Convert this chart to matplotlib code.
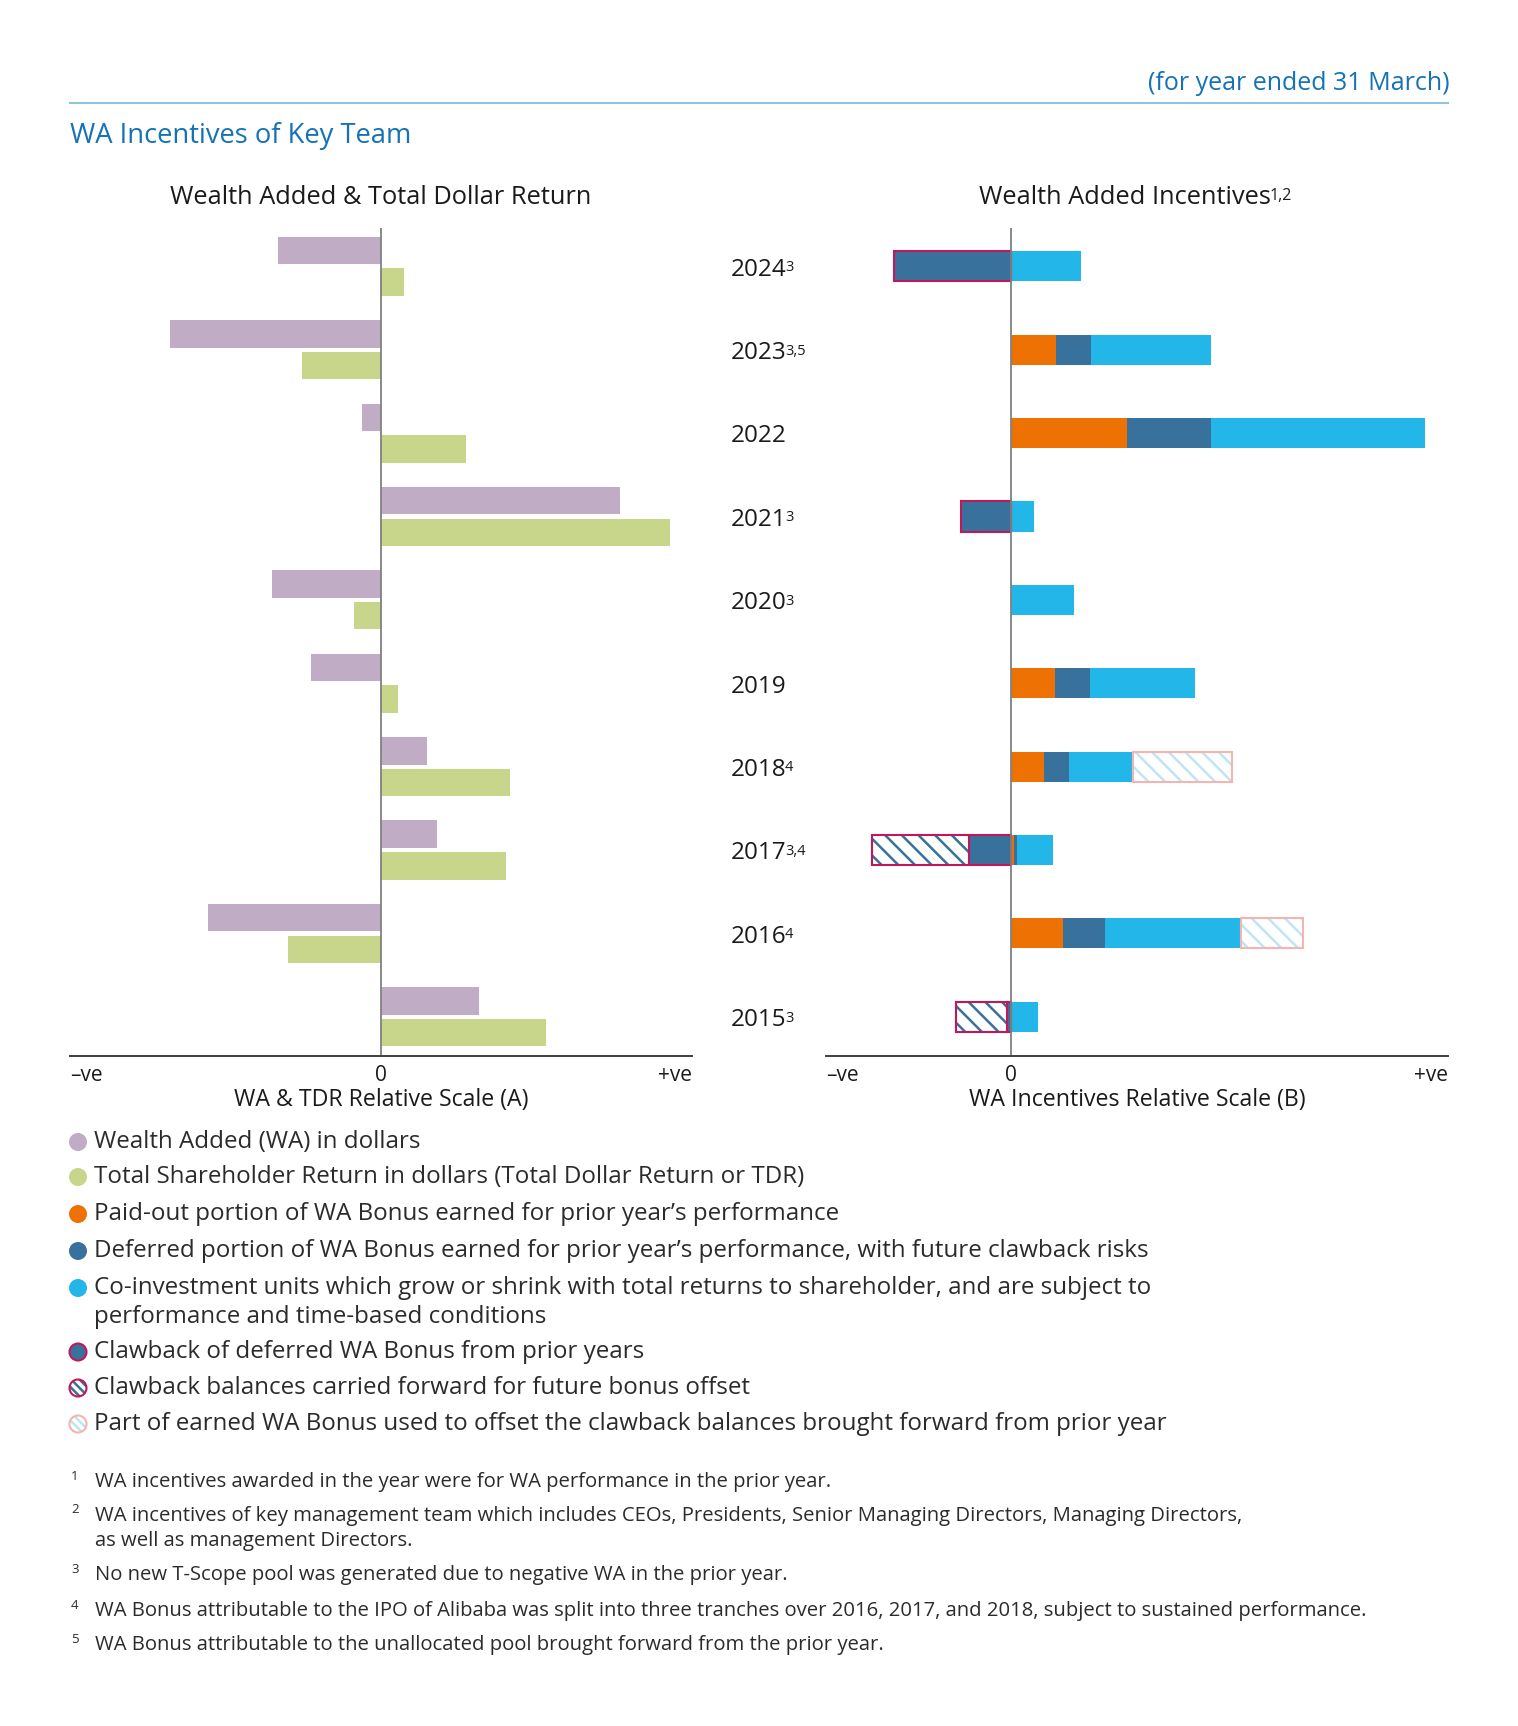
import matplotlib
matplotlib.use('Agg')
import numpy as np
import matplotlib.pyplot as plt
from matplotlib.patches import Circle
from matplotlib.transforms import blended_transform_factory

plt.rcParams['font.family'] = ['Open Sans', 'DejaVu Sans']
plt.rcParams['hatch.linewidth'] = 1.8

W, H = 1518, 1726

years = ['2024', '2023', '2022', '2021', '2020', '2019', '2018', '2017', '2016', '2015']
year_notes = ['3', '3,5', '', '3', '3', '', '4', '3,4', '4', '3']

# left chart, relative scale (A)
wealth_added = [-0.33, -0.68, -0.06, 0.77, -0.35, -0.225, 0.147, 0.181, -0.556, 0.316]
total_dollar_return = [0.075, -0.254, 0.274, 0.929, -0.088, 0.056, 0.415, 0.401, -0.298, 0.532]

# right chart, relative scale (B)
paid_out = [0, 0.103, 0.266, 0, 0, 0.100, 0.075, 0.007, 0.120, 0]
deferred = [0, 0.079, 0.191, 0, 0, 0.080, 0.058, 0.006, 0.096, 0]
co_invest = [0.161, 0.276, 0.490, 0.052, 0.145, 0.240, 0.147, 0.083, 0.311, 0.062]
offset_used = [0, 0, 0, 0, 0, 0, 0.225, 0, 0.142, 0]
clawback_deferred = [-0.268, 0, 0, -0.115, 0, 0, 0, -0.096, 0, -0.010]
clawback_carried = [0, 0, 0, 0, 0, 0, 0, -0.223, 0, -0.116]

legend_items = [
    'Wealth Added (WA) in dollars',
    'Total Shareholder Return in dollars (Total Dollar Return or TDR)',
    'Paid-out portion of WA Bonus earned for prior year\u2019s performance',
    'Deferred portion of WA Bonus earned for prior year\u2019s performance, with future clawback risks',
    'Co-investment units which grow or shrink with total returns to shareholder, and are subject to\nperformance and time-based conditions',
    'Clawback of deferred WA Bonus from prior years',
    'Clawback balances carried forward for future bonus offset',
    'Part of earned WA Bonus used to offset the clawback balances brought forward from prior year',
]

footnotes = [
    'WA incentives awarded in the year were for WA performance in the prior year.',
    'WA incentives of key management team which includes CEOs, Presidents, Senior Managing Directors, Managing Directors,\nas well as management Directors.',
    'No new T-Scope pool was generated due to negative WA in the prior year.',
    'WA Bonus attributable to the IPO of Alibaba was split into three tranches over 2016, 2017, and 2018, subject to sustained performance.',
    'WA Bonus attributable to the unallocated pool brought forward from the prior year.',
]

C_WA = '#c0adc5'
C_TDR = '#c7d68b'
C_PAID = '#ee7203'
C_DEF = '#38729c'
C_COINV = '#22b7e8'
C_CLAW = '#c2185b'
C_LHATCH = '#bfe5f5'
C_LEDGE = '#f4b4b0'
C_BLUE_TXT = '#1572b6'
C_TXT = '#1a1a1a'
C_GREY_TXT = '#2b2b2b'

fig = plt.figure(figsize=(W / 100, H / 100), dpi=100)

# overlay in pixel coordinates for the text and legend
ov = fig.add_axes([0, 0, 1, 1])
ov.set_xlim(0, W)
ov.set_ylim(H, 0)
ov.axis('off')
ov.patch.set_visible(False)


def px_axes(x0, x1, y0, y1):
    return fig.add_axes([x0 / W, 1 - y1 / H, (x1 - x0) / W, (y1 - y0) / H])


top_y, bot_y = 228, 1056
axl = px_axes(70, 692, top_y, bot_y)
axr = px_axes(826, 1448, top_y, bot_y)

rows = np.arange(len(years))
ylim = (9.47, -0.46)

# left chart
axl.barh(rows - 0.19, wealth_added, height=0.33, color=C_WA, lw=0)
axl.barh(rows + 0.19, total_dollar_return, height=0.33, color=C_TDR, lw=0)
axl.axvline(0, color='#808080', lw=1.3)
axl.set_xlim(-1, 1)
axl.set_ylim(*ylim)

# right chart
bh = 0.36
left = np.zeros(len(years))
for vals, col in [(paid_out, C_PAID), (deferred, C_DEF), (co_invest, C_COINV)]:
    vals = np.array(vals)
    axr.barh(rows, vals, left=left, height=bh, color=col, lw=0)
    left += vals

off = np.array(offset_used)
m = off != 0
axr.barh(rows[m], off[m], left=left[m], height=bh, color='white',
         edgecolor=C_LHATCH, hatch='\\\\', lw=0)
axr.barh(rows[m], off[m], left=left[m], height=bh, fill=False,
         edgecolor=C_LEDGE, lw=1.5)

cd = np.array(clawback_deferred)
m = cd != 0
axr.barh(rows[m], cd[m], height=bh, color=C_DEF, edgecolor=C_CLAW, lw=1.5)

cc = np.array(clawback_carried)
m = cc != 0
axr.barh(rows[m], cc[m], left=cd[m], height=bh, color='white',
         edgecolor=C_DEF, hatch='\\\\', lw=0)
axr.barh(rows[m], cc[m], left=cd[m], height=bh, fill=False,
         edgecolor=C_CLAW, lw=1.5)

axr.axvline(0, color='#808080', lw=1.3)
axr.set_xlim(-185 / 437, 1.0)
axr.set_ylim(*ylim)

for ax in (axl, axr):
    for s in ('top', 'right', 'left'):
        ax.spines[s].set_visible(False)
    ax.spines['bottom'].set_color('#404040')
    ax.spines['bottom'].set_linewidth(1.4)
    ax.set_xticks([])
    ax.set_yticks([])
    ax.patch.set_visible(False)

# year labels
tr = blended_transform_factory(fig.transFigure, axr.transData)
for i, (yr, note) in enumerate(zip(years, year_notes)):
    t = axr.text(731 / W, i + 0.04, yr, transform=tr, ha='left', va='center',
                 fontsize=17.5, color=C_TXT)
    if note:
        axr.annotate(note, xy=(1, 1), xycoords=t, xytext=(-1.2, -1.8),
                     textcoords='offset points', ha='left', va='top',
                     fontsize=10.5, color=C_TXT)

# header
ov.text(1450, 83, '(for year ended 31 March)', ha='right', va='center',
        fontsize=18, color=C_BLUE_TXT)
ov.plot([70, 1448], [103, 103], color='#8ec5de', lw=1.5)
ov.text(70, 136, 'WA Incentives of Key Team', ha='left', va='center',
        fontsize=19.7, color=C_BLUE_TXT)

ov.text(381, 198, 'Wealth Added & Total Dollar Return', ha='center', va='center',
        fontsize=18.3, color=C_TXT)
t = ov.text(979, 198, 'Wealth Added Incentives', ha='left', va='center',
            fontsize=18.3, color=C_TXT)
ov.annotate('1,2', xy=(1, 1), xycoords=t, xytext=(-0.8, -1.5),
            textcoords='offset points', ha='left', va='top', fontsize=11.5, color=C_TXT)

# axis scale labels
for x0, x1, zx, lab in [(70, 692, 381, 'WA & TDR Relative Scale (A)'),
                        (826, 1448, 1011, 'WA Incentives Relative Scale (B)')]:
    ov.text(x0, 1075, '\u2013ve', ha='left', va='center', fontsize=15, color=C_TXT)
    ov.text(zx, 1075, '0', ha='center', va='center', fontsize=15, color=C_TXT)
    ov.text(x1, 1075, '+ve', ha='right', va='center', fontsize=15, color=C_TXT)
    ov.text((x0 + x1) / 2, 1100, lab, ha='center', va='center', fontsize=16.7, color=C_TXT)

# legend
leg_y = [1142, 1177, 1214, 1251, 1288, 1352, 1388, 1424]
solid = [C_WA, C_TDR, C_PAID, C_DEF, C_COINV]
for i, (y, lab) in enumerate(zip(leg_y, legend_items)):
    if i < 5:
        ov.add_patch(Circle((78, y), 9, facecolor=solid[i], lw=0))
    elif i == 5:
        ov.add_patch(Circle((78, y), 8.5, facecolor=C_DEF, edgecolor=C_CLAW, lw=1.5))
    else:
        hc, ec = (C_DEF, C_CLAW) if i == 6 else (C_LHATCH, C_LEDGE)
        ov.add_patch(Circle((78, y), 8.5, facecolor='white', edgecolor=hc,
                            hatch='\\\\\\\\', lw=0))
        ov.add_patch(Circle((78, y), 8.5, fill=False, edgecolor=ec, lw=1.5))
    ty = y + 14.3 if '\n' in lab else y
    ov.text(94, ty, lab, ha='left', va='center', fontsize=17.4,
            color=C_GREY_TXT, linespacing=1.3)

# footnotes
fn_y = [1482, 1515, 1575, 1611, 1645]
for k, (y, txt) in enumerate(zip(fn_y, footnotes)):
    ov.text(71, y - 6, str(k + 1), ha='left', va='center', fontsize=9.5, color=C_GREY_TXT)
    ty = y + 13.5 if '\n' in txt else y
    ov.text(95, ty, txt, ha='left', va='center', fontsize=14.6,
            color=C_GREY_TXT, linespacing=1.3)

fig.savefig('out.png', dpi=100)
